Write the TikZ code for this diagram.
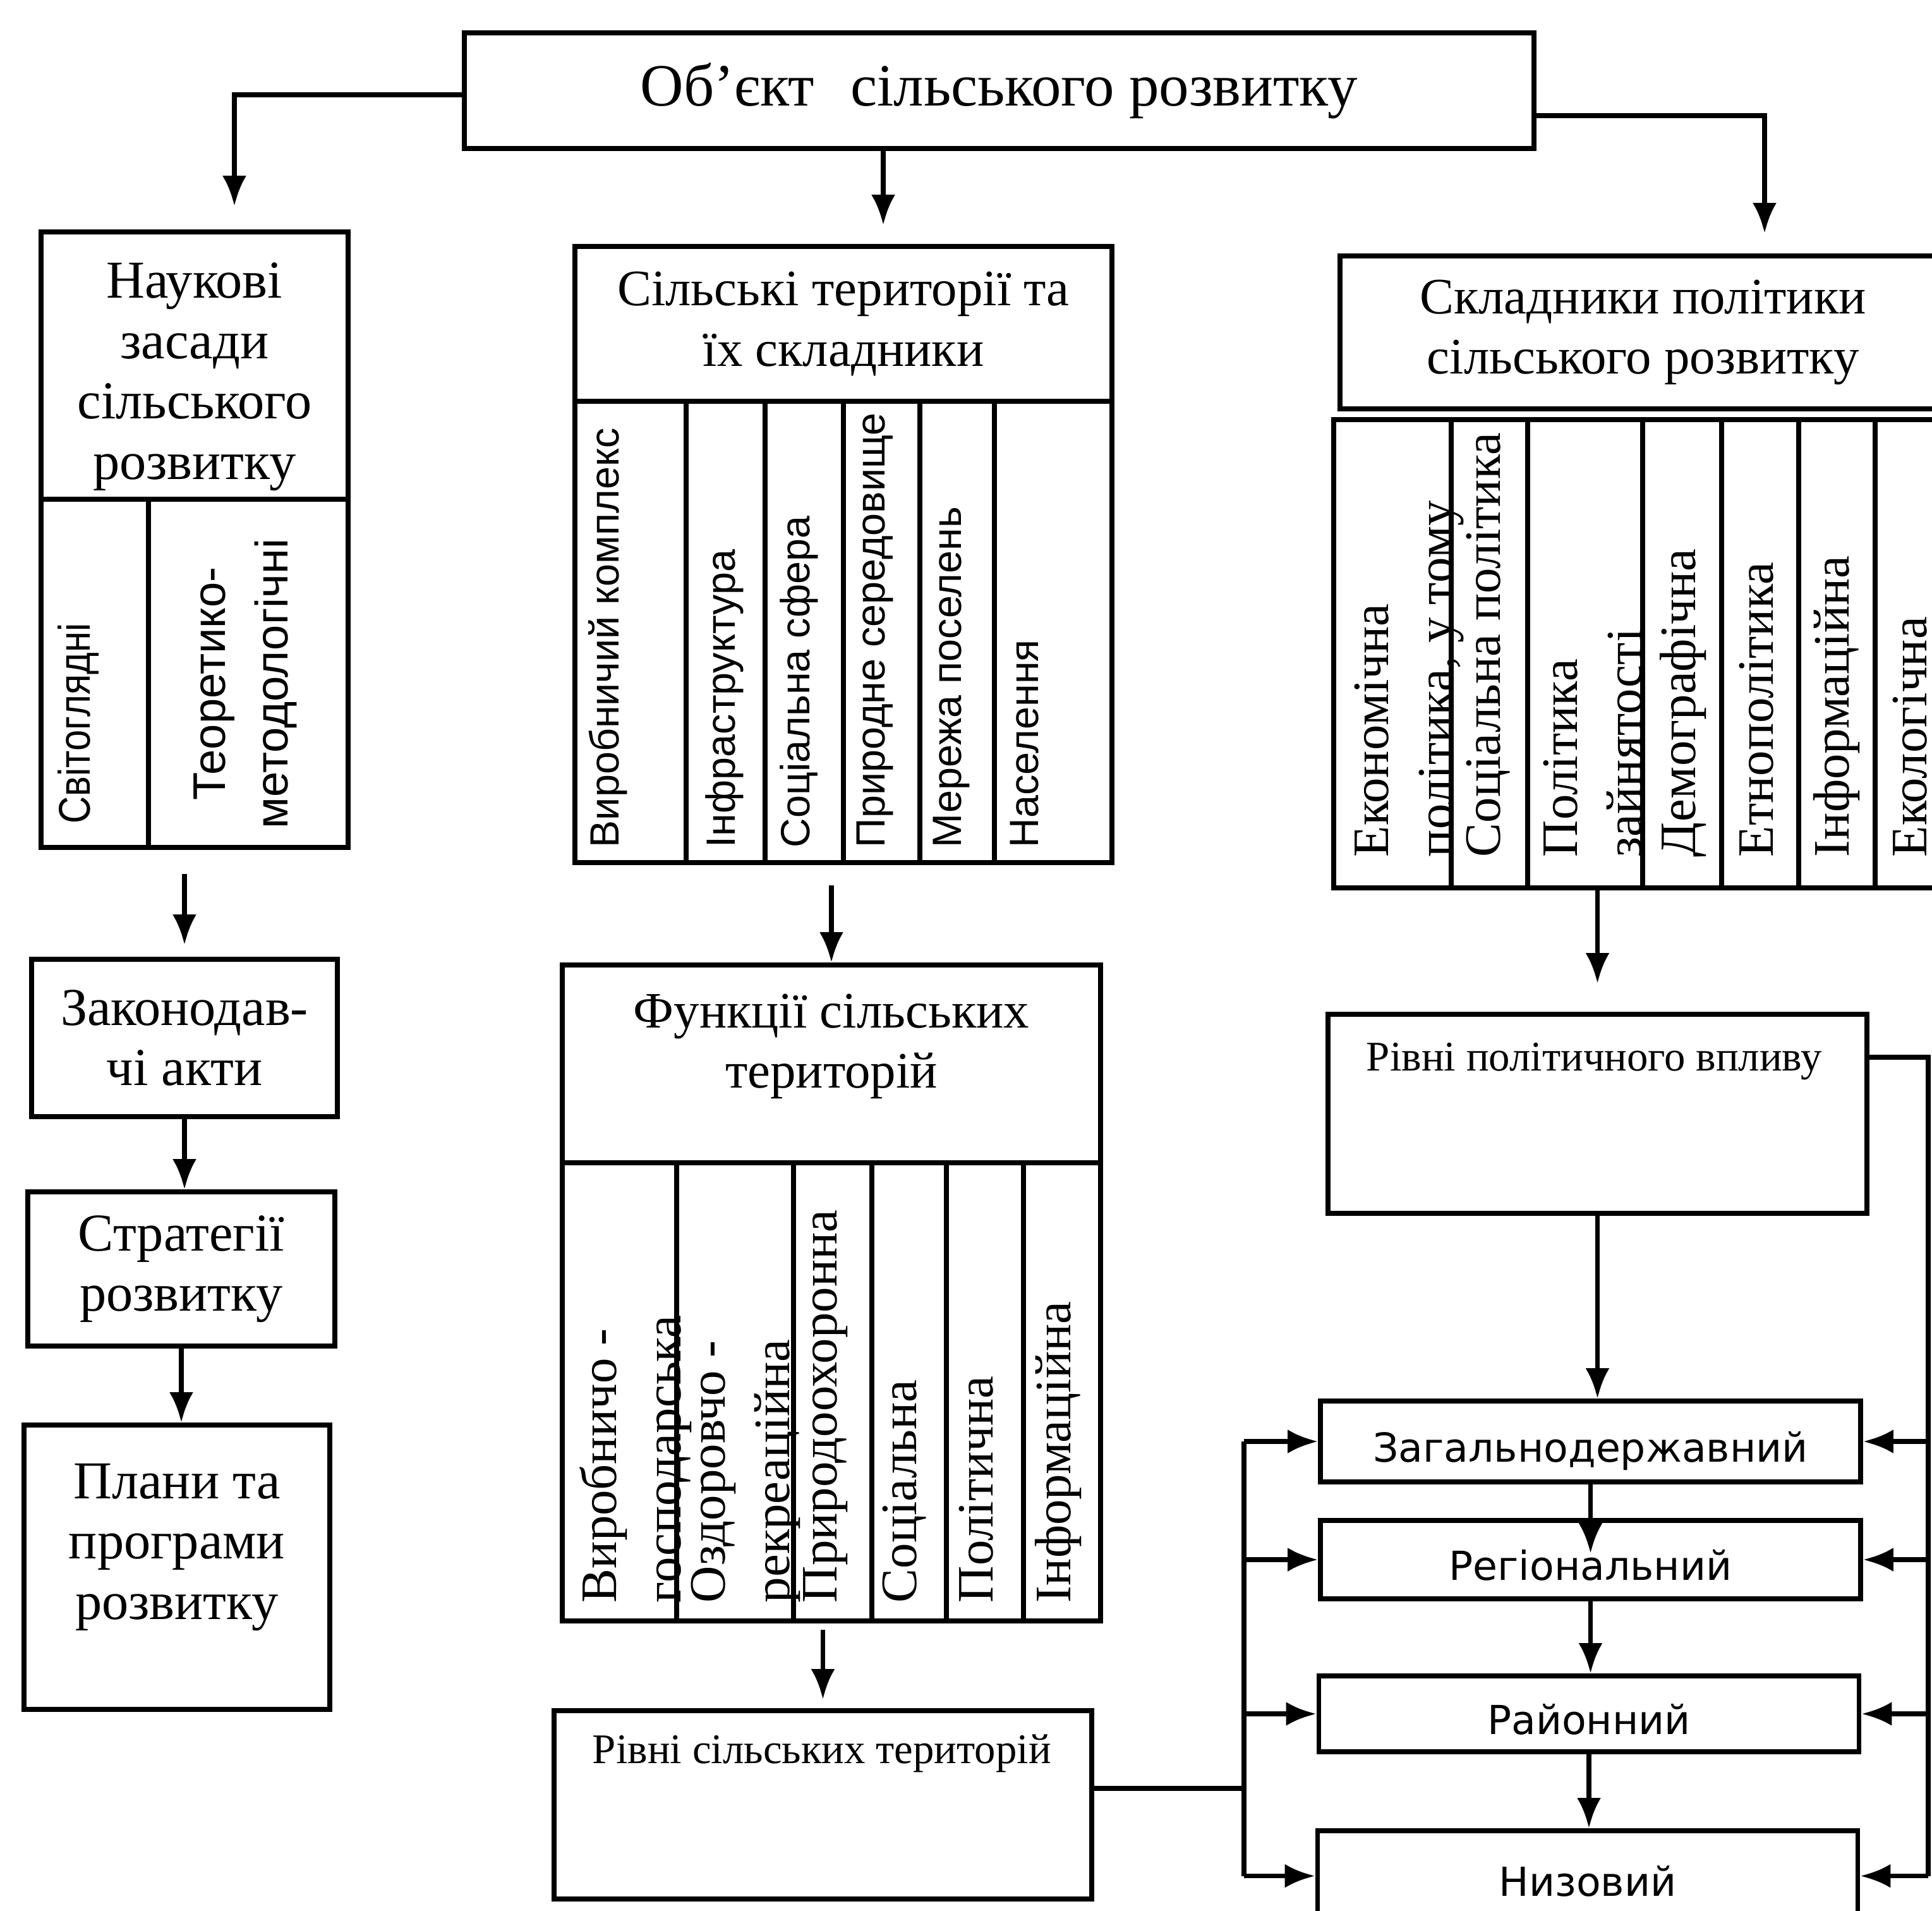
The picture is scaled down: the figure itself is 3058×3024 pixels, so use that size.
\documentclass[tikz,border=0pt]{standalone}
\usepackage{fontspec}
\setmainfont{Liberation Serif}
\newfontfamily\colsans{Liberation Sans}
\newfontfamily\narrowsans[FakeStretch=0.85]{Liberation Sans}
\newfontfamily\levelsans{DejaVu Sans}
\usetikzlibrary{arrows.meta}

\begin{document}
\begin{tikzpicture}[x=0.05mm, y=-0.05mm, line width=1.1pt,
    >={Latex[length=2.4mm,width=1.9mm]},
    box/.style={draw, rectangle, inner sep=0pt, align=center},
    ttl/.style={font=\fontsize{11.5}{13.6}\selectfont},
    lft/.style={font=\fontsize{12}{13.6}\selectfont},
    vcol/.style={rotate=90, anchor=north west, inner sep=0pt, align=left},
    vser/.style={vcol, font=\fontsize{11.5}{14.5}\selectfont},
    vsans/.style={vcol, font=\colsans\fontsize{9.2}{10}\selectfont},
    lvl/.style={box, minimum width=42.75mm, font=\levelsans\fontsize{9}{11}\selectfont,
      text height=9.2pt, text depth=0pt},
    rtxt/.style={anchor=base west, inner sep=0pt, font=\fontsize{9.5}{11}\selectfont}]
    \useasboundingbox (0,0) rectangle (3058,3024);
    \clip (0,0) rectangle (3058,3024);

    % object
    \node (obj) at (1581.5,143.5) [box, minimum width=84.65mm, minimum height=9.15mm,
      font=\fontsize{13.5}{16}\selectfont] {Об’єкт\hspace{0.6em}сільського розвитку};

    % left branch
    \node (nauk) at (308,578.5) [box, minimum width=24.3mm, minimum height=21.15mm] {};
    \node (nauk-t) at (308,596) [lft, align=center] {Наукові\\засади\\сільського\\розвитку};
    \node (naukc) at (308,1065.5) [box, minimum width=24.3mm, minimum height=27.55mm] {};
    \draw (235,790) -- (235,1341);
    \node (svit) at (88,1307) [vcol, font=\narrowsans\fontsize{10}{12}\selectfont] {Світоглядні};
    \node (teor) at (303,1082) [rotate=90, anchor=north, inner sep=0pt, align=center,
      font=\colsans\fontsize{10.3}{14}\selectfont] {Теоретико-\\методологічні};
    \node (zak) at (292,1642.5) [box, lft, minimum width=24.2mm, minimum height=12.45mm]
      {Законодав-\\чі акти};
    \node (strat) at (287,2008) [box, lft, minimum width=24.3mm, minimum height=12.2mm]
      {Стратегії\\розвитку};
    \node (plan) at (280,2480) [box, minimum width=24.2mm, minimum height=22.5mm] {};
    \node (plan-t) at (280,2312) [lft, anchor=north, inner sep=0pt, align=center]
      {Плани та\\програми\\розвитку};

    % middle branch
    \node (silt) at (1335,512.5) [box, ttl, minimum width=42.5mm, minimum height=12.25mm]
      {Сільські території та\\їх складники};
    \node (silc) at (1335,1000) [box, minimum width=42.5mm, minimum height=36.5mm] {};
    \draw (1086,635) -- (1086,1365) (1211,635) -- (1211,1365) (1335,635) -- (1335,1365)
      (1456,635) -- (1456,1365) (1574,635) -- (1574,1365);
    \node (s1) at (928,1345) [vsans] {Виробничий комплекс};
    \node (s2) at (1113,1345) [vsans] {Інфраструктура};
    \node (s3) at (1231,1345) [vsans] {Соціальна сфера};
    \node (s4) at (1352,1345) [vsans] {Природне середовище};
    \node (s5) at (1473,1345) [vsans] {Мережа поселень};
    \node (s6) at (1595,1345) [vsans] {Населення};

    \node (funt) at (1316,1683.5) [box, minimum width=42.6mm, minimum height=15.65mm] {};
    \node (funt-t) at (1316,1656) [ttl, align=center] {Функції сільських\\територій};
    \node (func) at (1316,2202.5) [box, minimum width=42.6mm, minimum height=36.25mm] {};
    \draw (1071,1840) -- (1071,2565) (1256,1840) -- (1256,2565) (1380,1840) -- (1380,2565)
      (1498,1840) -- (1498,2565) (1620,1840) -- (1620,2565);
    \node (f1) at (914,2540) [vser] {Виробничо -\\господарська};
    \node (f2) at (1090,2540) [vser] {Оздоровчо -\\рекреаційна};
    \node (f3) at (1268,2540) [vser] {Природоохоронна};
    \node (f4) at (1393,2540) [vser] {Соціальна};
    \node (f5) at (1514,2540) [vser] {Політична};
    \node (f6) at (1635,2540) [vser] {Інформаційна};

    \node (rsil) at (1302.5,2856) [box, minimum width=42.55mm, minimum height=14.9mm] {};
    \node (rsil-t) at (934,2790) [rtxt] {Рівні сільських територій};

    % right branch
    \node (sklt) at (2600.5,526) [box, ttl, minimum width=47.95mm, minimum height=12.1mm]
      {Складники політики\\сільського розвитку};
    \node (sklc) at (2595.5,1034.5) [box, minimum width=48.45mm, minimum height=37.05mm] {};
    \draw (2297,664) -- (2297,1405) (2418,664) -- (2418,1405) (2600,664) -- (2600,1405)
      (2725,664) -- (2725,1405) (2847,664) -- (2847,1405) (2968,664) -- (2968,1405);
    \node (p1) at (2140,1360) [vser] {Економічна\\політика, у тому};
    \node (p2) at (2317,1360) [vser] {Соціальна політика};
    \node (p3) at (2439,1360) [vser] {Політика\\зайнятості};
    \node (p4) at (2624,1360) [vser] {Демографічна};
    \node (p5) at (2749,1360) [vser] {Етнополітика};
    \node (p6) at (2867,1360) [vser] {Інформаційна};
    \node (p7) at (2992,1360) [vser] {Екологічна};

    \node (rpol) at (2528.5,1762.5) [box, minimum width=42.65mm, minimum height=15.75mm] {};
    \node (rpol-t) at (2159,1694) [rtxt] {Рівні політичного впливу};

    \node (zag) at (2517.5,2281) [lvl, minimum height=6.4mm] {Загальнодержавний};
    \node (reg) at (2517.5,2468) [lvl, minimum height=6.2mm] {Регіональний};
    \node (ray) at (2515,2712) [lvl, minimum height=6mm] {Районний};
    \node (nyz) at (2513,2968.5) [lvl, minimum height=7.15mm] {Низовий};

    % connectors
    \coordinate (k1) at (371,150); \coordinate (k2) at (1398,250);
    \coordinate (k3) at (2793,183);
    \draw[->, shorten >=1.85mm] (obj.west |- k1) -- (k1) -- (k1 |- nauk.north);
    \draw[->, shorten >=1.5mm] (obj.south -| k2) -- (k2 |- silt.north);
    \draw[->, shorten >=1.6mm] (obj.east |- k3) -- (k3) -- (k3 |- sklt.north);

    \draw[->, shorten <=1.9mm, shorten >=0.95mm] (naukc.south -| zak.north) -- (zak.north);
    \draw[->] (zak.south) -- (zak.south |- strat.north);
    \draw[->] (strat.south) -- (strat.south |- plan.north);

    \draw[->, shorten <=1.6mm] (silc.south -| funt.north) -- (funt.north);
    \draw[->, shorten <=0.5mm, shorten >=0.7mm] (func.south -| rsil.north) -- (rsil.north);

    \draw[->, shorten >=2.25mm] (sklc.south -| rpol.north) -- (rpol.north);
    \draw[->] (rpol.south) -- (rpol.south |- zag.north);
    \draw[->, shorten >=-2.8mm] (zag.south) -- (zag.south |- reg.north);
    \draw[->] (reg.south) -- (reg.south |- ray.north);
    \draw[->] (ray.south) -- (ray.south |- nyz.north);

    \coordinate (lb) at (1969,2830);
    \draw (lb -| rsil.east) -- (lb) (lb |- zag.west) -- (lb |- nyz.west);
    \draw[->] (lb |- zag.west) -- (zag.west); \draw[->] (lb |- reg.west) -- (reg.west);
    \draw[->] (lb |- ray.west) -- (ray.west); \draw[->] (lb |- nyz.west) -- (nyz.west);

    \coordinate (rb) at (3052,1673);
    \draw (rb -| rpol.east) -- (rb) -- (rb |- nyz.east);
    \draw[->] (rb |- zag.east) -- (zag.east); \draw[->] (rb |- reg.east) -- (reg.east);
    \draw[->] (rb |- ray.east) -- (ray.east); \draw[->] (rb |- nyz.east) -- (nyz.east);
  \end{tikzpicture}
\end{document}
